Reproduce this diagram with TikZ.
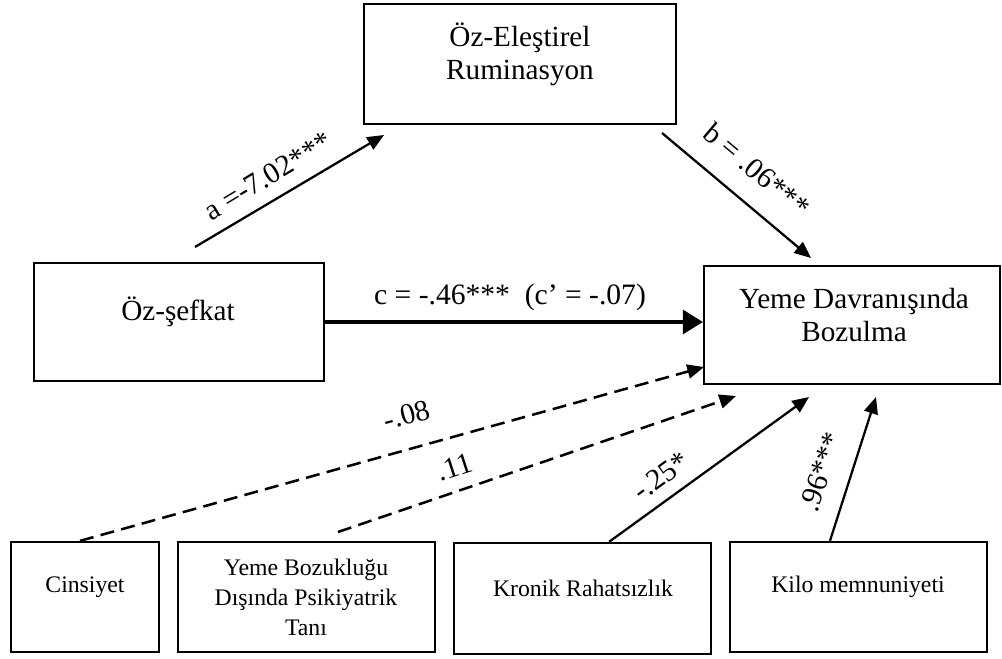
\documentclass[tikz,border=0pt]{standalone}
\usepackage{fontspec}
\setmainfont{Liberation Serif}
\usetikzlibrary{arrows.meta,calc}
\begin{document}
\begin{tikzpicture}[x=0.75pt,y=-0.75pt,
  box/.style={draw, line width=1.7pt, inner sep=0pt},
  bigtxt/.style={font=\fontsize{21.9}{25}\selectfont, align=center, inner sep=0pt},
  smalltxt/.style={font=\fontsize{17.8}{22.5}\selectfont, align=center, inner sep=0pt},
  lbl/.style={font=\fontsize{22.2}{25}\selectfont, inner sep=0pt},
  arr/.style={line width=1.7pt, -{Triangle[length=12.5pt,width=10.5pt]}},
  darr/.style={arr, line width=1.9pt, dash pattern=on 10.5pt off 5.5pt},
  bigarr/.style={line width=2.3pt, -{Triangle[length=15pt,width=18pt]}}
]
\useasboundingbox (0,0) rectangle (1002,659);

% boxes
\node[box, minimum width=234pt, minimum height=90pt] (rum) at (520,64) {};
\node[box, minimum width=217.5pt, minimum height=88.5pt] (sef) at (179,322) {};
\node[box, minimum width=222pt, minimum height=88.5pt] (yeme) at (852,325) {};
\node[box, minimum width=111pt, minimum height=82.5pt] (cins) at (85,597) {};
\node[box, minimum width=192.75pt, minimum height=82.5pt] (psik) at (306.5,597) {};
\node[box, minimum width=192.75pt, minimum height=83.25pt] (kron) at (582.5,598.5) {};
\node[box, minimum width=192.75pt, minimum height=82.5pt] (kilo) at (858.5,597) {};

% box texts
\node[bigtxt] (rumt) at (520,54) {Öz-Eleştirel\\Ruminasyon};
\node[bigtxt] (seft) at (178,312) {Öz-şefkat};
\node[bigtxt] (yemet) at (854,315) {Yeme Davranışında\\Bozulma};
\node[smalltxt] (cinst) at (85,587) {Cinsiyet};
\node[smalltxt] (psikt) at (306,597) {Yeme Bozukluğu\\Dışında Psikiyatrik\\Tanı};
\node[smalltxt] (kront) at (583,588) {Kronik Rahatsızlık};
\node[smalltxt] (kilot) at (858,587) {Kilo memnuniyeti};

% free ends
\coordinate (a0) at (195,247);
\coordinate (a1) at (384,135);
\coordinate (b0) at (662,133);
\coordinate (b1) at (811,258);
\coordinate (d1) at (704,367);
\coordinate (d20) at (338,532);
\coordinate (d21) at (736,396);
\coordinate (kr1) at (809,397);
\coordinate (ki1) at (876,397);

% connectors
\draw[arr] (a0) -- (a1);
\draw[arr] (b0) -- (b1);
\draw[bigarr] (sef.east) -- (sef.east -| yeme.west);
\draw[darr] ([xshift=-3.75pt]cins.north) -- (d1);
\draw[darr] (d20) -- (d21);
\draw[arr] ([xshift=19.9pt]kron.north) -- (kr1);
\draw[arr] ([xshift=-21.4pt]kilo.north) -- (ki1);

% labels
\node[lbl, rotate=31] (la) at (268,176) {a =-7.02***};
\node[lbl, rotate=-40] (lb) at (757,170) {b = .06***};
\node[lbl] (lc) at (510,297) {c = -.46***\ \ (c’ = -.07)};
\node[lbl, rotate=15] (ld1) at (407,415) {-.08};
\node[lbl, rotate=18] (ld2) at (455,467) {.11};
\node[lbl, rotate=36] (lkr) at (661,476) {-.25*};
\node[lbl, rotate=72] (lki) at (821,472) {.96***};
\end{tikzpicture}
\end{document}
